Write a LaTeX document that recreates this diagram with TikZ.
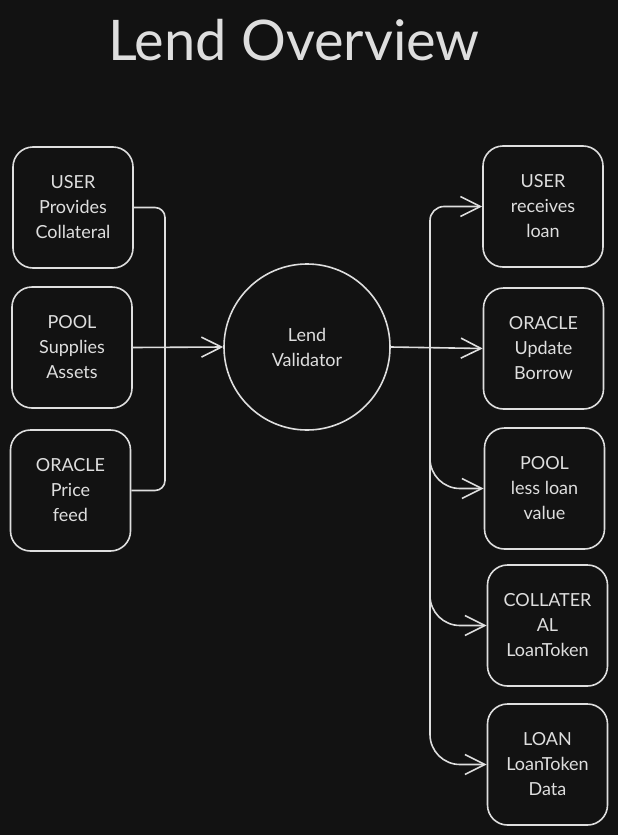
\documentclass[tikz,border=0pt]{standalone}
\usepackage{fontspec}
\setmainfont{Lato}
\usetikzlibrary{arrows.meta}

\definecolor{board}{HTML}{121212}
\definecolor{chalk}{HTML}{DEDEDE}

\begin{document}
\begin{tikzpicture}
[
    x=1pt, y=-1pt,
    every node/.style={text=chalk},
    card/.style={draw=chalk, line width=1.6pt, rounded corners=20pt,
        minimum width=120pt, minimum height=121pt, align=center,
        font=\fontsize{18}{25}\selectfont},
    hub/.style={draw=chalk, line width=1.6pt, circle, minimum size=166pt,
        align=center, font=\fontsize{18}{25}\selectfont},
    wire/.style={draw=chalk, line width=1.6pt},
    flow/.style={wire, -{Straight Barb[length=20pt, width=20pt, line width=1.6pt]}},
]
\fill[board] (0,0) rectangle (618,835);
\useasboundingbox (0,0) rectangle (618,835);

\node (title) at (294,40) {\fontsize{56}{56}\selectfont Lend Overview};

% inputs
\node [card] (userin) at (73,207.5) {USER\\Provides\\Collateral};
\node [card] (poolin) at (72,347.5) {POOL\\Supplies\\Assets};
\node [card] (oraclein) at (70.5,490.5) {ORACLE\\Price\\feed};

\node [hub] (validator) at (307,347) {Lend\\Validator};

% outputs
\node [card] (userout) at (543,206.5) {USER\\receives\\loan};
\node [card] (oracleout) at (543.5,348.5) {ORACLE\\Update\\Borrow};
\node [card] (poolout) at (544.5,488.5) {POOL\\less loan\\value};
\node [card] (collout) at (547.5,625.5) {COLLATER\\AL\\LoanToken};
\node [card] (loanout) at (547.5,764.5) {LOAN\\LoanToken\\Data};

\coordinate (join) at (165,347.5);
\coordinate (split) at (430,347.5);
\coordinate (drop) at (430,410);

\draw [wire, rounded corners=10pt] (userin.east) -| (join) |- (oraclein.east);
\draw [flow] (poolin.east) -- (validator.west);

\draw [flow] (validator.east) -- (oracleout.west);
\draw [flow, rounded corners=14pt] (split) |- (userout.west);
\draw [wire] (split) -- (drop);
\draw [flow, rounded corners=30pt] (drop) |- (poolout.west);
\draw [flow, rounded corners=30pt] (drop) |- (collout.west);
\draw [flow, rounded corners=30pt] (drop) |- (loanout.west);
\end{tikzpicture}
\end{document}
